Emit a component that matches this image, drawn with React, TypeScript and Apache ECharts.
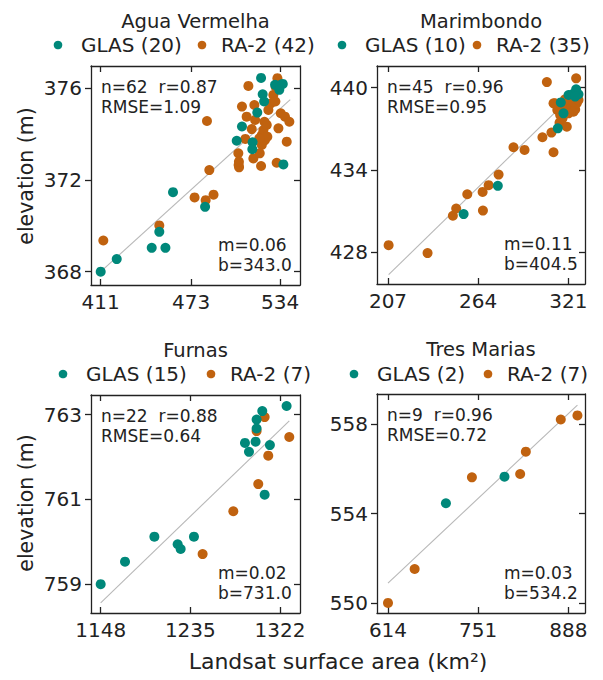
import React, { useEffect, useRef } from "react";
import * as echarts from "echarts";

// ---------- data ----------
const titles = ["Agua Vermelha", "Marimbondo", "Furnas", "Tres Marias"];
const glasNames = ["GLAS (20)", "GLAS (10)", "GLAS (15)", "GLAS (2)"];
const raNames = ["RA-2 (42)", "RA-2 (35)", "RA-2 (7)", "RA-2 (7)"];

const xTicks = [
  [411, 473, 534],
  [207, 264, 321],
  [1148, 1235, 1322],
  [614, 751, 888],
];
const yTicks = [
  [368, 372, 376],
  [428, 434, 440],
  [759, 761, 763],
  [550, 554, 558],
];

const aguaGlas = [
  [411, 368.0], [422.0, 368.55], [451.2, 369.74], [446.0, 369.04], [455.4, 369.04],
  [460.6, 371.47], [482.6, 370.83], [504.3, 373.71], [507.9, 374.33], [515.2, 373.64],
  [515.0, 373.34], [518.4, 374.94], [521.0, 376.45], [522.1, 375.74], [523.1, 375.42],
  [530.6, 376.15], [534.5, 376.15], [535.9, 376.19], [533.5, 375.93], [536.3, 372.68],
];
const aguaRa = [
  [412.8, 369.36], [451.2, 370.02], [483.9, 374.57], [485.5, 372.43], [475.4, 371.24],
  [483.0, 371.12], [488.4, 371.36], [512.3, 376.1], [507.9, 375.2], [511.1, 374.76],
  [510.2, 373.79], [505.4, 373.16], [505.6, 372.65], [505.9, 372.55], [514.6, 374.22],
  [515.7, 372.94], [516.4, 375.27], [516.9, 374.62], [521.0, 372.61], [521.5, 373.96],
  [521.5, 373.53], [522.6, 374.17], [523.3, 374.54], [523.7, 373.74], [524.9, 374.4],
  [526.0, 375.05], [527.6, 375.34], [529.4, 375.71], [530.8, 375.42], [532.2, 376.44],
  [532.9, 374.25], [531.7, 372.75], [534.5, 374.91], [537.4, 374.76], [540.4, 374.54],
  [538.6, 373.67], [523.0, 373.74], [525.3, 373.89], [519.8, 373.82], [505.8, 372.8],
  [531.0, 376.07], [520.1, 373.16],
];
const marimGlas = [
  [254.8, 430.79], [276.4, 432.85], [314.3, 437.04], [317.9, 438.13], [316.2, 438.93],
  [321.1, 439.47], [323.8, 439.54], [325.9, 439.88], [327.4, 439.52], [325.3, 439.35],
];
const marimRa = [
  [207.4, 428.53], [232.0, 427.95], [248.0, 430.67], [250.1, 431.2], [257.1, 432.24],
  [267.0, 431.05], [266.8, 432.41], [270.6, 432.9], [276.9, 433.67], [286.3, 435.66],
  [293.3, 435.47], [304.6, 436.39], [307.4, 440.41], [310.3, 436.73], [311.6, 435.3],
  [312.6, 438.86], [315.4, 437.45], [317.3, 437.77], [317.9, 438.25], [320.0, 437.16],
  [320.4, 438.74], [323.2, 438.62], [324.2, 438.25], [325.9, 440.68], [325.3, 438.42],
  [326.3, 438.86], [318.9, 439.15], [322.1, 439.1], [316.7, 438.62], [314.0, 438.38],
  [324.2, 438.98], [315.8, 438.01], [321.1, 438.13], [311.6, 438.86], [327.4, 439.1],
];
const furnasGlas = [
  [1148, 759.0], [1171.6, 759.53], [1200.1, 760.12], [1222.7, 759.94], [1225.6, 759.83],
  [1238.5, 760.12], [1288.0, 762.33], [1291.9, 762.12], [1298.3, 762.36], [1299.3, 762.67],
  [1299.3, 762.88], [1304.8, 763.08], [1312.2, 762.28], [1307.1, 761.11], [1328.4, 763.2],
];
const furnasRa = [
  [1246.9, 759.71], [1276.7, 760.72], [1300.9, 761.36], [1310.6, 762.03],
  [1299.3, 762.61], [1307.1, 762.94], [1331.0, 762.47],
];
const tresGlas = [[702.0, 554.46], [791.0, 555.65]];
const tresRa = [
  [614, 550.0], [654.5, 551.52], [741.5, 555.62], [814.8, 555.77],
  [823.4, 556.77], [876.5, 558.21], [901.8, 558.39],
];

const fitLines = [
  [[411, 368.0], [541, 375.5]],
  [[207.4, 426.38], [325.9, 439.7]],
  [[1148, 758.56], [1331, 762.85]],
  [[614, 550.89], [901.8, 558.85]],
];

const statsTop = [
  ["n=62  r=0.87", "RMSE=1.09"],
  ["n=45  r=0.96", "RMSE=0.95"],
  ["n=22  r=0.88", "RMSE=0.64"],
  ["n=9  r=0.96", "RMSE=0.72"],
];
const statsBottom = [
  ["m=0.06", "b=343.0"],
  ["m=0.11", "b=404.5"],
  ["m=0.02", "b=731.0"],
  ["m=0.03", "b=534.2"],
];

const glasData = [aguaGlas, marimGlas, furnasGlas, tresGlas];
const raData = [aguaRa, marimRa, furnasRa, tresRa];

// ---------- layout ----------
const FONT = "'DejaVu Sans', sans-serif";
const TEAL = "#00887a";
const ORANGE = "#c0620f";
const AX = "#222";

const grids = [
  { left: 91, top: 66, width: 209, height: 219 },
  { left: 377, top: 66, width: 208, height: 218 },
  { left: 91, top: 395, width: 209, height: 218 },
  { left: 377, top: 394, width: 208, height: 219 },
];
const xRange = [
  [404.35, 547.7],
  [200.05, 331.5],
  [1138.6, 1341.4],
  [597.3, 913.3],
];
const yRange = [
  [367.42, 376.97],
  [425.7, 441.58],
  [758.32, 763.46],
  [549.55, 559.35],
];
// legend dot centres (glas, ra) and row y
const legendDots = [
  [58, 202, 45],
  [342, 477, 45],
  [63, 211, 374],
  [354, 488, 374],
];

export default function App() {
  const ref = useRef<HTMLDivElement>(null);
  useEffect(() => {
    if (!ref.current) return;
    const chart = echarts.init(ref.current, undefined, { renderer: "svg" });

    const xAxis: any[] = [];
    const yAxis: any[] = [];
    const series: any[] = [];
    const graphic: any[] = [];

    for (let i = 0; i < 4; i++) {
      const g = grids[i];
      const axLine = { show: true, lineStyle: { color: AX, width: 1.3 } };
      const tickStyle = { color: AX, width: 1.3 };
      xAxis.push({
        type: "value", gridIndex: i, position: "bottom",
        min: xRange[i][0], max: xRange[i][1],
        axisLine: { ...axLine, onZero: false },
        axisTick: { show: true, inside: true, length: 6, customValues: xTicks[i], lineStyle: tickStyle },
        axisLabel: { show: true, customValues: xTicks[i], margin: 7, fontSize: 20, fontFamily: FONT, color: "#222", formatter: (v: number) => String(Math.round(v)) },
        splitLine: { show: false },
      });
      xAxis.push({
        type: "value", gridIndex: i, position: "top",
        min: xRange[i][0], max: xRange[i][1],
        axisLine: { ...axLine, onZero: false },
        axisTick: { show: true, inside: true, length: 6, customValues: xTicks[i], lineStyle: tickStyle },
        axisLabel: { show: false },
        splitLine: { show: false },
      });
      yAxis.push({
        type: "value", gridIndex: i, position: "left",
        min: yRange[i][0], max: yRange[i][1],
        axisLine: { ...axLine, onZero: false },
        axisTick: { show: true, inside: false, length: 6, customValues: yTicks[i], lineStyle: tickStyle },
        axisLabel: { show: true, customValues: yTicks[i], margin: 9, fontSize: 20, fontFamily: FONT, color: "#222", formatter: (v: number) => String(Math.round(v)) },
        splitLine: { show: false },
      });
      yAxis.push({
        type: "value", gridIndex: i, position: "right",
        min: yRange[i][0], max: yRange[i][1],
        axisLine: { ...axLine, onZero: false },
        axisTick: { show: true, inside: true, length: 6, customValues: yTicks[i], lineStyle: tickStyle },
        axisLabel: { show: false },
        splitLine: { show: false },
      });

      series.push({
        type: "line", xAxisIndex: 2 * i, yAxisIndex: 2 * i,
        data: fitLines[i], symbol: "none", silent: true,
        lineStyle: { color: "#b8b8b8", width: 1.1 }, z: 1,
      });
      series.push({
        name: raNames[i], type: "scatter", xAxisIndex: 2 * i, yAxisIndex: 2 * i,
        data: raData[i], symbolSize: 10, itemStyle: { color: ORANGE, opacity: 1 }, z: 2,
      });
      series.push({
        name: glasNames[i], type: "scatter", xAxisIndex: 2 * i, yAxisIndex: 2 * i,
        data: glasData[i], symbolSize: 10, itemStyle: { color: TEAL, opacity: 1 }, z: 3,
      });

      // legend (drawn as graphic for exact placement)
      const [gx, rx, ly] = legendDots[i];
      graphic.push({ type: "circle", shape: { cx: gx, cy: ly, r: 4.3 }, style: { fill: TEAL } });
      graphic.push({
        type: "text", x: gx + 23, y: ly,
        style: { text: glasNames[i], fontSize: 20, fontFamily: FONT, fill: "#222", align: "left", verticalAlign: "middle" },
      });
      graphic.push({ type: "circle", shape: { cx: rx, cy: ly, r: 4.3 }, style: { fill: ORANGE } });
      graphic.push({
        type: "text", x: rx + 19, y: ly,
        style: { text: raNames[i], fontSize: 20, fontFamily: FONT, fill: "#222", align: "left", verticalAlign: "middle" },
      });

      const cx = g.left + g.width / 2;
      graphic.push({
        type: "text", x: cx, y: g.top - 45,
        style: { text: titles[i], fontSize: 19.5, fontFamily: FONT, fill: "#222", align: "center", verticalAlign: "middle" },
      });
      const leftTx = g.left + 10;
      graphic.push({
        type: "text", x: leftTx, y: g.top + 21,
        style: { text: statsTop[i][0], fontSize: 17, fontFamily: FONT, fill: "#222", align: "left", verticalAlign: "middle" },
      });
      graphic.push({
        type: "text", x: leftTx, y: g.top + 41,
        style: { text: statsTop[i][1], fontSize: 17, fontFamily: FONT, fill: "#222", align: "left", verticalAlign: "middle" },
      });
      const bx = g.left + 127;
      graphic.push({
        type: "text", x: bx, y: g.top + g.height - 40,
        style: { text: statsBottom[i][0], fontSize: 17, fontFamily: FONT, fill: "#222", align: "left", verticalAlign: "middle" },
      });
      graphic.push({
        type: "text", x: bx, y: g.top + g.height - 20,
        style: { text: statsBottom[i][1], fontSize: 17, fontFamily: FONT, fill: "#222", align: "left", verticalAlign: "middle" },
      });
    }

    graphic.push({
      type: "text", x: 26, y: 176, rotation: Math.PI / 2,
      style: { text: "elevation (m)", fontSize: 20.5, fontFamily: FONT, fill: "#222", align: "center", verticalAlign: "middle" },
    });
    graphic.push({
      type: "text", x: 26, y: 503, rotation: Math.PI / 2,
      style: { text: "elevation (m)", fontSize: 20.5, fontFamily: FONT, fill: "#222", align: "center", verticalAlign: "middle" },
    });
    graphic.push({
      type: "text", x: 338, y: 661,
      style: { text: "Landsat surface area (km²)", fontSize: 22, fontFamily: FONT, fill: "#222", align: "center", verticalAlign: "middle" },
    });

    chart.setOption({
      animation: false,
      backgroundColor: "#fff",
      grid: grids.map((g) => ({ ...g, containLabel: false })),
      xAxis, yAxis, series, graphic,
    });
    return () => chart.dispose();
  }, []);

  return (
    <div
      ref={ref}
      style={{ position: "absolute", left: 0, top: 0, width: 603, height: 680 }}
    />
  );
}
